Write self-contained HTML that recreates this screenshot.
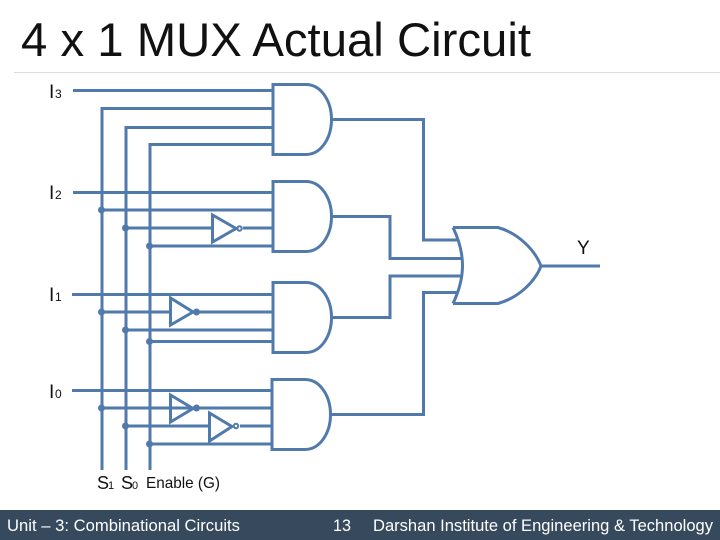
<!DOCTYPE html>
<html>
<head>
<meta charset="utf-8">
<style>
html,body{margin:0;padding:0;background:#fff;width:720px;height:540px;overflow:hidden}
svg{display:block}
text{font-family:"Liberation Sans",sans-serif}
</style>
</head>
<body>
<svg width="720" height="540" viewBox="0 0 720 540" xmlns="http://www.w3.org/2000/svg">
<rect width="720" height="540" fill="#fff"/>
<text x="21" y="56" font-size="47" fill="#111" textLength="510" lengthAdjust="spacingAndGlyphs">4 x 1 MUX Actual Circuit</text>
<line x1="14" y1="72.5" x2="720" y2="72.5" stroke="#dcdcdc" stroke-width="1"/>

<g fill="none" stroke="#507aab" stroke-width="3">
<path d="M73 90.5H273"/>
<path d="M102 470V108.5H273"/>
<path d="M126 470V127.5H273"/>
<path d="M150 470V144.5H273"/>
<path d="M73 192.5H273"/>
<path d="M101 210H273"/>
<path d="M126 228H212M243 228H273"/>
<path d="M150 246H273"/>
<path d="M72 294.5H273"/>
<path d="M101 312H171M197 312H273"/>
<path d="M126 330H273"/>
<path d="M150 341.5H273"/>
<path d="M72 390.5H272"/>
<path d="M101 408H272"/>
<path d="M126 426H210M240 426H272"/>
<path d="M150 444H272"/>
<path d="M273 84.5H306C321 84.5 331.5 101 331.5 119.5C331.5 138 321 154.5 306 154.5H273Z"/>
<path d="M273 181.5H306C321 181.5 331.5 198 331.5 216.5C331.5 235 321 251.5 306 251.5H273Z"/>
<path d="M273 282.5H306C321 282.5 331.5 299 331.5 317.5C331.5 336 321 352.5 306 352.5H273Z"/>
<path d="M272 379.5H305C320 379.5 330.5 396 330.5 414.5C330.5 433 320 449.5 305 449.5H272Z"/>
<path d="M212.5 215V242L236 228.5Z"/>
<path d="M170.5 298V325L193 312Z"/>
<path d="M170.5 395V422L193 408.5Z"/>
<path d="M209.5 413V441L232 426.5Z"/>
<path d="M331 119.5H423.5V240H458"/>
<path d="M331 216.5H390V258.5H462"/>
<path d="M331 317.5H390V276H462"/>
<path d="M330 414.5H423.5V292.5H458"/>
<path d="M453 227.5C459 240 462.5 253 462.5 265.5C462.5 278 459 291 453 303.5"/>
<path d="M453 227.5H498C518 233 535 250 541 266C535 282 518 298 498 303.5H453"/>
<path d="M541 266H600"/>
<circle cx="239.5" cy="228.5" r="2.2" stroke-width="2"/>
<circle cx="236" cy="426" r="2.2" stroke-width="2"/>
</g>
<g fill="#507aab">
<circle cx="101.5" cy="210" r="3.5"/><circle cx="125.5" cy="228" r="3.5"/><circle cx="149.5" cy="246" r="3.5"/>
<circle cx="101.5" cy="312" r="3.5"/><circle cx="125.5" cy="330" r="3.5"/><circle cx="149.5" cy="341.5" r="3.5"/>
<circle cx="101.5" cy="408" r="3.5"/><circle cx="125.5" cy="426" r="3.5"/><circle cx="149.5" cy="444" r="3.5"/>
<circle cx="196.5" cy="312" r="3.5"/><circle cx="196.5" cy="408" r="3.5"/>
</g>

<g fill="#111">
<text x="49" y="98" font-size="19">I</text><text x="55" y="98" font-size="12">3</text>
<text x="49" y="199" font-size="19">I</text><text x="55" y="199" font-size="12">2</text>
<text x="49" y="301" font-size="19">I</text><text x="55" y="301" font-size="12">1</text>
<text x="49" y="398" font-size="19">I</text><text x="55" y="398" font-size="12">0</text>
<text x="577" y="254" font-size="19">Y</text>
<text x="97" y="489" font-size="18">S</text><text x="108" y="489" font-size="11">1</text>
<text x="121" y="489" font-size="18">S</text><text x="132" y="489" font-size="11">0</text>
<text x="146" y="488" font-size="16" textLength="74" lengthAdjust="spacingAndGlyphs">Enable (G)</text>
</g>

<rect x="0" y="510" width="720" height="30" fill="#36495d"/>
<g fill="#fff" font-size="17">
<text x="7" y="531" textLength="233" lengthAdjust="spacingAndGlyphs">Unit – 3: Combinational Circuits</text>
<text x="333" y="531" textLength="18" lengthAdjust="spacingAndGlyphs">13</text>
<text x="373" y="531" textLength="340" lengthAdjust="spacingAndGlyphs">Darshan Institute of Engineering &amp; Technology</text>
</g>
</svg>
</body>
</html>
